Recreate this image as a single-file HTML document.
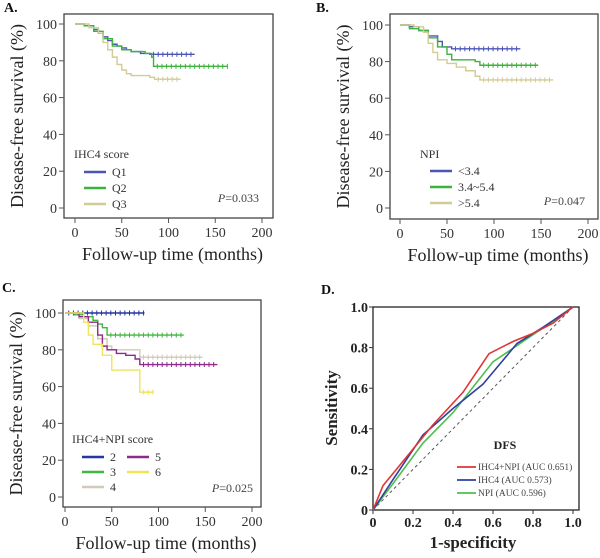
<!DOCTYPE html>
<html><head><meta charset="utf-8"><style>
html,body{margin:0;padding:0;background:#fff;}
svg{display:block;font-family:"Liberation Serif",serif;}
</style></head><body>
<svg id="fig" width="600" height="558" viewBox="0 0 600 558" xmlns="http://www.w3.org/2000/svg"></svg>
<script>
// ---- data ----
const kmTicks = [0,50,100,150,200];
const kmYTicks = [0,20,40,60,80,100];
// Panel A
const aQ1T = [0,10,20,25,30,35,40,45,50,55,60,70,80];
const aQ1V = [100,99,97,95,93,91,89,88,87,86,85,84,83.5];
const aQ1End = 128;
const aQ2T = [0,10,20,30,40,50,60,75,82,84];
const aQ2V = [100,99,96,92,88,86,85,84,82,77];
const aQ2End = 163;
const aQ3T = [0,15,25,30,35,40,45,50,55,60,80,85];
const aQ3V = [100,98,95,90,86,82,78,75,73,72,71,70];
const aQ3End = 113;
// Panel B
const bLowT = [0,10,20,30,40,45,55];
const bLowV = [100,99,97,94,91,88,87];
const bLowEnd = 128;
const bMidT = [0,10,20,30,40,50,55,80,85];
const bMidV = [100,98,97,93,88,84,81,80,78];
const bMidEnd = 147;
const bHighT = [0,15,25,30,35,40,50,60,70,80,85];
const bHighV = [100,99,96,90,85,81,79,77,75,72,70];
const bHighEnd = 163;
// Panel C
const c2T = [0]; const c2V = [100]; const c2End = 85;
const c3T = [0,10,20,30,35,40,45]; const c3V = [100,99,98,96,94,92,88]; const c3End = 127;
const c4T = [0,15,25,35,45,50,60,80]; const c4V = [100,97,93,86,82,80,80,76]; const c4End = 147;
const c5T = [0,15,25,35,40,45,55,65,75,80]; const c5V = [100,98,95,88,82,80,78,77,75,72]; const c5End = 163;
const c6T = [0,20,25,30,40,50,80]; const c6V = [100,95,88,83,77,69,57]; const c6End = 95;
// Panel D (ROC)
const rocTicks = [0,0.2,0.4,0.6,0.8,1.0];
const rocTickLabels = ["0","0.2","0.4","0.6","0.8","1.0"];
const rocRedX = [0,0.05,0.1,0.2,0.3,0.45,0.58,0.7,0.8,0.9,1];
const rocRedY = [0,0.12,0.18,0.3,0.42,0.58,0.77,0.83,0.87,0.92,1];
const rocBlueX = [0,0.1,0.25,0.4,0.55,0.72,0.85,1];
const rocBlueY = [0,0.15,0.37,0.5,0.62,0.82,0.9,1];
const rocGreenX = [0,0.1,0.25,0.4,0.6,0.75,0.9,1];
const rocGreenY = [0,0.13,0.33,0.48,0.73,0.83,0.93,1];

const NS="http://www.w3.org/2000/svg";
const svg=document.getElementById('fig');
function mk(tag,attrs,parent){const e=document.createElementNS(NS,tag);for(const k in attrs)e.setAttribute(k,attrs[k]);(parent||svg).appendChild(e);return e;}
function txt(s,x,y,size,anchor,parent,extra){const t=mk('text',Object.assign({x:x,y:y,'font-size':size,'text-anchor':anchor||'start',fill:'#333'},extra||{}),parent);t.textContent=s;return t;}

function kmPanel(P){
  const g=mk('g',{});
  
  
  const sx=v=>P.x0+(v/200)*(P.x200-P.x0);
  const sy=v=>P.y0+(v/100)*(P.y100-P.y0);
  mk('rect',{x:P.L,y:P.T,width:P.R-P.L,height:P.B-P.T,fill:'none',stroke:'#444','stroke-width':1.3},g);
  const lab=txt(P.label,P.labX,P.labY,14,'start',g,{'font-weight':'bold',fill:'#111'});
  
  
  kmYTicks.forEach(v=>{const y=sy(v);mk('line',{x1:P.L-5,x2:P.L,y1:y,y2:y,stroke:'#555'},g);
    const t=txt(String(v),P.L-7,y+5,14,'end',g);
    
    });
  kmTicks.forEach(v=>{const x=sx(v);mk('line',{x1:x,x2:x,y1:P.B,y2:P.B+5,stroke:'#555'},g);
    const t=txt(String(v),x,P.B+19,14,'middle',g);
    
    });
  const xt=txt('Follow-up time (months)',(P.L+P.R)/2+4,P.B+42,18,'middle',g,{fill:'#222'});
  
  
  const cy=(P.T+P.B)/2;
  const yt=txt('Disease-free survival (%)',P.L-41,cy,18,'middle',g,{transform:'rotate(-90 '+(P.L-41)+' '+cy+')',fill:'#222'});
  
  
  P.series.forEach(s=>{
    let d='M'+sx(s.t[0])+','+sy(s.v[0]);
    for(let i=1;i<s.t.length;i++){d+=' H'+sx(s.t[i])+' V'+sy(s.v[i]);}
    d+=' H'+sx(s.end);
    const p=mk('path',{d:d,fill:'none',stroke:s.c,'stroke-width':1.4},g);
    
    
    const last=s.v[s.v.length-1], lt=s.t[s.t.length-1];
    for(let c=lt+4;c<=s.end;c+=5){const x=sx(c),y=sy(last);mk('line',{x1:x,x2:x,y1:y-2.5,y2:y+2.5,stroke:s.c,'stroke-width':1},g);}
  });
  // legend
  const lg=mk('g',{},g);
  
  
  txt(P.legTitle,P.legX,P.legY,12,'start',lg);
  P.series.forEach((s,i)=>{
    const col=P.legCols?Math.floor(i/(P.legCols)):0;
    const row=P.legCols?i%P.legCols:i;
    const x=P.legX+10+col*45, y=P.legY+P.legFirst+row*P.legStep;
    const e=mk('g',{},lg);
    
    
    mk('line',{x1:x,x2:x+22,y1:y-4,y2:y-4,stroke:s.c,'stroke-width':2.5},e);
    txt(s.key,x+28,y,12,'start',e);
  });
  const pv=mk('text',{x:P.pX,y:P.pY,'font-size':12,'text-anchor':'end',fill:'#444'},g);
  pv.innerHTML='<tspan font-style="italic">P</tspan>='+P.p;
  
  
}

kmPanel({name:'panel-a',label:'A.',labX:4,labY:12,L:64,R:273,T:14,B:218,x0:75,x200:262,y0:208,y100:24,
  legTitle:'IHC4 score',legX:74,legY:158,legFirst:18,legStep:16,pX:259,pY:202,p:'0.033',
  series:[{key:'Q1',t:aQ1T,v:aQ1V,end:aQ1End,c:'#4a55b5'},{key:'Q2',t:aQ2T,v:aQ2V,end:aQ2End,c:'#3eb23e'},{key:'Q3',t:aQ3T,v:aQ3V,end:aQ3End,c:'#d2cb95'}]});
kmPanel({name:'panel-b',label:'B.',labX:316,labY:12,L:390,R:598,T:14,B:219,x0:400,x200:588,y0:208,y100:25,
  legTitle:'NPI',legX:420,legY:158,legFirst:17,legStep:16,pX:585,pY:205,p:'0.047',
  series:[{key:'<3.4',t:bLowT,v:bLowV,end:bLowEnd,c:'#4a55b5'},{key:'3.4~5.4',t:bMidT,v:bMidV,end:bMidEnd,c:'#3eb23e'},{key:'>5.4',t:bHighT,v:bHighV,end:bHighEnd,c:'#d2cb95'}]});
kmPanel({name:'panel-c',label:'C.',labX:2,labY:292,L:63,R:261,T:300,B:507,x0:65,x200:252,y0:497,y100:313,
  legTitle:'IHC4+NPI score',legX:72,legY:443,legFirst:18,legStep:15,pX:253,pY:492,p:'0.025',legCols:3,
  series:[{key:'2',t:c2T,v:c2V,end:c2End,c:'#2535a5'},{key:'3',t:c3T,v:c3V,end:c3End,c:'#40b840'},{key:'4',t:c4T,v:c4V,end:c4End,c:'#cfcbb8'},{key:'5',t:c5T,v:c5V,end:c5End,c:'#8e2a88'},{key:'6',t:c6T,v:c6V,end:c6End,c:'#f0e45a'}]});

// Panel D
(function(){
  const g=mk('g',{});
  
  
  const L=373,R=579,T=307,B=510,X0=373,X1=573;
  const sx=v=>X0+v*(X1-X0), sy=v=>B-v*(B-T);
  mk('rect',{x:L,y:T,width:R-L,height:B-T,fill:'none',stroke:'#333','stroke-width':1.4},g);
  const lab=txt('D.',321,294,14,'start',g,{'font-weight':'bold',fill:'#111'});
  
  
  rocTicks.forEach((v,i)=>{
    mk('line',{x1:L-4,x2:L,y1:sy(v),y2:sy(v),stroke:'#333'},g);
    const t=txt(rocTickLabels[i],L-5,sy(v)+5,14,'end',g,{'font-weight':'bold',fill:'#222'});
    
    
    mk('line',{x1:sx(v),x2:sx(v),y1:B,y2:B+4,stroke:'#333'},g);
    const u=txt(rocTickLabels[i],sx(v),B+17,14,'middle',g,{'font-weight':'bold',fill:'#222'});
    
    
  });
  const xt=txt('1-specificity',(X0+X1)/2,548,17,'middle',g,{'font-weight':'bold',fill:'#222'});
  
  
  const yt=txt('Sensitivity',337,408,17,'middle',g,{'font-weight':'bold',fill:'#222',transform:'rotate(-90 337 408)'});
  
  
  const ref=mk('line',{x1:sx(0),y1:sy(0),x2:sx(1),y2:sy(1),stroke:'#555','stroke-dasharray':'3,3','stroke-width':1},g);
  
  const series=[{k:'roc-npi',x:rocGreenX,y:rocGreenY,c:'#4cc04c'},{k:'roc-ihc4',x:rocBlueX,y:rocBlueY,c:'#3040a0'},{k:'roc-ihc4-npi',x:rocRedX,y:rocRedY,c:'#e03535'}];
  series.forEach(s=>{
    const pts=s.x.map((v,i)=>sx(v)+','+sy(s.y[i])).join(' ');
    const p=mk('polyline',{points:pts,fill:'none',stroke:s.c,'stroke-width':1.6},g);
    
    
  });
  const dt=txt('DFS',505,449,12,'middle',g,{'font-weight':'bold',fill:'#222'});
  
  
  const leg=[['IHC4+NPI (AUC 0.651)','#e03535'],['IHC4 (AUC 0.573)','#3040a0'],['NPI (AUC 0.596)','#4cc04c']];
  leg.forEach((l,i)=>{
    const y=470+i*13;
    const e=mk('g',{},g);
    
    
    mk('line',{x1:457,x2:476,y1:y-3,y2:y-3,stroke:l[1],'stroke-width':1.8},e);
    txt(l[0],478,y,9.5,'start',e,{fill:'#444'});
  });
})();
</script>
</body></html>
